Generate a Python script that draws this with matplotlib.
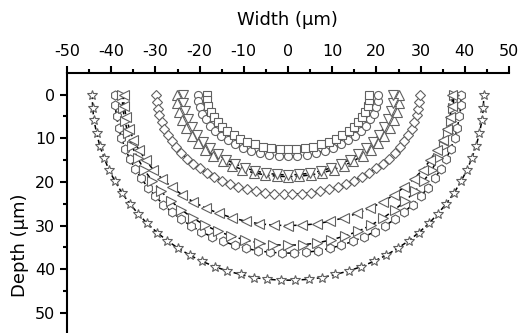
import matplotlib
matplotlib.use("Agg")
import matplotlib.pyplot as plt
from matplotlib.ticker import FixedLocator

plt.rcParams['font.family'] = ['DejaVu Sans']
plt.rcParams['axes.unicode_minus'] = False

# ---- data (width in um, depth in um) ----
sq_x = [-18.4,-18.3,-18.0,-17.5,-16.8,-15.9,-14.9,-13.7,-12.3,-10.8,-9.2,-7.5,-5.7,-3.8,-1.9,0.0,
        1.9,3.8,5.7,7.5,9.2,10.8,12.3,13.7,14.9,15.9,16.8,17.5,18.0,18.3,18.4]
sq_y = [0.0,1.3,2.6,3.9,5.1,6.3,7.4,8.4,9.3,10.1,10.8,11.4,11.9,12.2,12.4,12.5,
        12.4,12.2,11.9,11.4,10.8,10.1,9.3,8.4,7.4,6.3,5.1,3.9,2.6,1.3,0.0]

ci_x = [-20.4,-20.3,-20.0,-19.4,-18.6,-17.7,-16.5,-15.2,-13.6,-12.0,-10.2,-8.3,-6.3,-4.2,-2.1,0.0,
        2.1,4.2,6.3,8.3,10.2,12.0,13.6,15.2,16.5,17.7,18.6,19.4,20.0,20.3,20.4]
ci_y = [0.0,1.5,2.9,4.4,5.7,7.1,8.3,9.4,10.5,11.4,12.2,12.9,13.4,13.8,14.0,14.1,
        14.0,13.8,13.4,12.9,12.2,11.4,10.5,9.4,8.3,7.1,5.7,4.4,2.9,1.5,0.0]

dt_x = [-23.8,-23.7,-23.3,-22.6,-21.8,-20.6,-19.3,-17.7,-15.9,-14.0,-11.9,-9.7,-7.4,-5.0,-2.5,0.0,
        2.5,5.0,7.4,9.7,11.9,14.0,15.9,17.7,19.3,20.6,21.8,22.6,23.3,23.7,23.8]
dt_y = [0.0,1.9,3.8,5.7,7.5,9.2,10.8,12.3,13.7,14.9,15.9,16.8,17.5,18.0,18.3,18.4,
        18.3,18.0,17.5,16.8,15.9,14.9,13.7,12.3,10.8,9.2,7.5,5.7,3.8,1.9,0.0]

ut_x = [-25.2,-25.1,-24.6,-24.0,-23.0,-21.8,-20.4,-18.7,-16.9,-14.8,-12.6,-10.3,-7.8,-5.2,-2.6,0.0,
        2.6,5.2,7.8,10.3,12.6,14.8,16.9,18.7,20.4,21.8,23.0,24.0,24.6,25.1,25.2]
ut_y = [0.0,2.0,3.9,5.8,7.7,9.4,11.1,12.6,14.0,15.2,16.3,17.2,17.9,18.4,18.7,18.8,
        18.7,18.4,17.9,17.2,16.3,15.2,14.0,12.6,11.1,9.4,7.7,5.8,3.9,2.0,0.0]

di_x = [-29.8,-29.7,-29.5,-29.1,-28.6,-28.0,-27.2,-26.3,-25.3,-24.1,-22.8,-21.4,-19.9,-18.4,-16.7,
        -14.9,-13.1,-11.2,-9.2,-7.2,-5.2,-3.1,-1.0,
        1.0,3.1,5.2,7.2,9.2,11.2,13.1,14.9,16.7,18.4,19.9,21.4,22.8,24.1,25.3,26.3,27.2,28.0,
        28.6,29.1,29.5,29.7,29.8]
di_y = [0.0,1.6,3.2,4.7,6.3,7.8,9.3,10.7,12.1,13.4,14.7,15.8,16.9,18.0,18.9,19.7,20.5,21.1,21.7,
        22.1,22.5,22.7,22.8,
        22.8,22.7,22.5,22.1,21.7,21.1,20.5,19.7,18.9,18.0,16.9,15.8,14.7,13.4,12.1,10.7,9.3,7.8,
        6.3,4.7,3.2,1.6,0.0]

lt_x = [-37.2,-37.1,-36.6,-35.9,-35.0,-33.7,-32.2,-30.5,-28.5,-26.3,-23.9,-21.4,-18.6,-15.7,-12.7,
        -9.6,-6.5,-3.2,0.0,3.2,6.5,9.6,12.7,15.7,18.6,21.4,23.9,26.3,28.5,30.5,32.2,33.7,35.0,
        35.9,36.6,37.1,37.2]
lt_y = [0.0,2.6,5.2,7.8,10.3,12.7,15.0,17.2,19.3,21.2,23.0,24.6,26.0,27.2,28.2,29.0,29.6,29.9,
        30.0,29.9,29.6,29.0,28.2,27.2,26.0,24.6,23.0,21.2,19.3,17.2,15.0,12.7,10.3,7.8,5.2,2.6,0.0]

rt_x = [-37.5,-37.4,-36.9,-36.2,-35.3,-34.0,-32.5,-30.7,-28.7,-26.5,-24.1,-21.5,-18.8,-15.9,-12.8,
        -9.7,-6.5,-3.3,0.0,3.3,6.5,9.7,12.8,15.9,18.8,21.5,24.1,26.5,28.7,30.7,32.5,34.0,35.3,
        36.2,36.9,37.4,37.5]
rt_y = [0.0,3.0,6.0,8.9,11.8,14.6,17.3,19.8,22.2,24.4,26.4,28.3,29.9,31.3,32.4,33.3,34.0,34.4,
        34.5,34.4,34.0,33.3,32.4,31.3,29.9,28.3,26.4,24.4,22.2,19.8,17.3,14.6,11.8,8.9,6.0,3.0,0.0]

hx_x = [-39.2,-39.1,-38.8,-38.3,-37.7,-36.8,-35.8,-34.6,-33.2,-31.7,-30.0,-28.2,-26.2,-24.1,-21.9,
        -19.6,-17.2,-14.7,-12.1,-9.5,-6.8,-4.1,-1.4,
        1.4,4.1,6.8,9.5,12.1,14.7,17.2,19.6,21.9,24.1,26.2,28.2,30.0,31.7,33.2,34.6,35.8,36.8,
        37.7,38.3,38.8,39.1,39.2]
hx_y = [0.0,2.5,5.0,7.6,10.0,12.4,14.8,17.0,19.2,21.3,23.3,25.2,27.0,28.6,30.1,31.4,32.6,33.6,
        34.5,35.2,35.8,36.1,36.3,
        36.3,36.1,35.8,35.2,34.5,33.6,32.6,31.4,30.1,28.6,27.0,25.2,23.3,21.3,19.2,17.0,14.8,
        12.4,10.0,7.6,5.0,2.5,0.0]

st_x = [-44.3,-44.2,-43.9,-43.3,-42.6,-41.6,-40.5,-39.1,-37.6,-35.8,-33.9,-31.9,-29.6,-27.3,-24.8,
        -22.2,-19.4,-16.6,-13.7,-10.7,-7.7,-4.7,-1.6,
        1.6,4.7,7.7,10.7,13.7,16.6,19.4,22.2,24.8,27.3,29.6,31.9,33.9,35.8,37.6,39.1,40.5,41.6,
        42.6,43.3,43.9,44.2,44.3]
st_y = [0.0,3.0,5.9,8.8,11.7,14.5,17.3,19.9,22.5,25.0,27.3,29.5,31.6,33.5,35.2,36.8,38.2,39.4,
        40.4,41.2,41.9,42.3,42.5,
        42.5,42.3,41.9,41.2,40.4,39.4,38.2,36.8,35.2,33.5,31.6,29.5,27.3,25.0,22.5,19.9,17.3,
        14.5,11.7,8.8,5.9,3.0,0.0]

x_ticks = [-50, -40, -30, -20, -10, 0, 10, 20, 30, 40, 50]
y_ticks = [0, 10, 20, 30, 40, 50]

series = [
    (st_x, st_y, '*', 7.5),
    (hx_x, hx_y, 'h', 6.5),
    (rt_x, rt_y, '>', 7.0),
    (lt_x, lt_y, '<', 7.0),
    (di_x, di_y, 'D', 5.3),
    (ut_x, ut_y, '^', 7.0),
    (dt_x, dt_y, 'v', 7.0),
    (ci_x, ci_y, 'o', 5.8),
    (sq_x, sq_y, 's', 5.3),
]

W, H = 519, 333
fig = plt.figure(figsize=(W / 100, H / 100), dpi=100)
ax = fig.add_axes([67 / W, 0.0, 442 / W, 260.3 / H])

for xs, ys, m, ms in series:
    ax.plot(xs, ys, color='black', lw=1.1, ls=(0, (3, 2)), zorder=1)
for xs, ys, m, ms in series:
    ax.plot(xs, ys, ls='none', marker=m, ms=ms, mfc='white', mec='#606060', mew=0.8, zorder=2)

ax.set_xlim(-50, 50)
ax.set_ylim(54.6, -5)
ax.xaxis.tick_top()
ax.set_xticks(x_ticks)
ax.set_yticks(y_ticks)
ax.xaxis.set_minor_locator(FixedLocator([-45, -35, -25, -15, -5, 5, 15, 25, 35, 45]))
ax.yaxis.set_minor_locator(FixedLocator([5, 15, 25, 35, 45]))
for s in ['right', 'bottom']:
    ax.spines[s].set_visible(False)
for s in ['left', 'top']:
    ax.spines[s].set_linewidth(1.5)
ax.tick_params(which='major', direction='out', length=5, width=1.5, labelsize=11.5, pad=3.5)
ax.tick_params(which='minor', direction='out', length=3, width=1.5)
ax.tick_params(axis='x', which='major', pad=5)

fig.text(287 / W, 1 - 20 / H, 'Width (\u03bcm)', ha='center', va='center', fontsize=13)
fig.text(20 / W, 1 - 245 / H, 'Depth (\u03bcm)', ha='center', va='center', rotation=90, fontsize=13)

fig.savefig('out.png', dpi=100)
